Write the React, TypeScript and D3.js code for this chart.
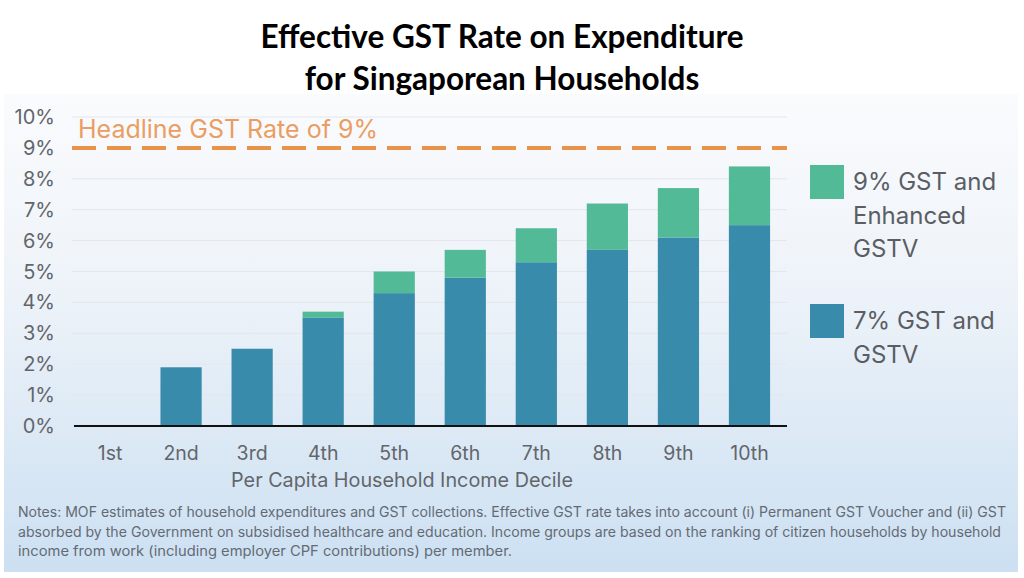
import React, { useEffect, useRef } from 'react';
import * as d3 from 'd3';

// deciles on the x axis
const deciles = ['1st', '2nd', '3rd', '4th', '5th', '6th', '7th', '8th', '9th', '10th'];
// effective rate (%) under 7% GST and GSTV
const baseRates = [0, 1.9, 2.5, 3.5, 4.3, 4.8, 5.3, 5.7, 6.1, 6.5];
// extra effective rate (%) under 9% GST and Enhanced GSTV
const extraRates = [0, 0, 0, 0.2, 0.7, 0.9, 1.1, 1.5, 1.6, 1.9];
const yTicks = [0, 1, 2, 3, 4, 5, 6, 7, 8, 9, 10];
const headlineRate = 9;

const titleLines = ['Effective GST Rate on Expenditure', 'for Singaporean Households'];
const legendItems = [
	{ key: 'extra', lines: ['9% GST and', 'Enhanced', 'GSTV'] },
	{ key: 'base', lines: ['7% GST and', 'GSTV'] },
];
const noteLines = [
	'Notes: MOF estimates of household expenditures and GST collections. Effective GST rate takes into account (i) Permanent GST Voucher and (ii) GST',
	'absorbed by the Government on subsidised healthcare and education. Income groups are based on the ranking of citizen households by household',
	'income from work (including employer CPF contributions) per member.',
];

const W = 1024;
const H = 578;
const colors: Record<string, string> = { base: '#388BAA', extra: '#53BA98' };
const font = 'Inter, "Noto Sans", sans-serif';

const App: React.FC = () => {
	const ref = useRef<SVGSVGElement>(null);

	useEffect(() => {
		if (!ref.current) return;
		const svg = d3.select(ref.current);
		svg.selectAll('*').remove();

		const margin = { left: 74.5, right: 1024 - 785, top: 117, bottom: 578 - 426 };

		// background panel
		const defs = svg.append('defs');
		const grad = defs
			.append('linearGradient')
			.attr('id', 'bg')
			.attr('x1', 0)
			.attr('y1', 0)
			.attr('x2', 0)
			.attr('y2', 1);
		grad.append('stop').attr('offset', '0%').attr('stop-color', '#FAFBFD');
		grad.append('stop').attr('offset', '40%').attr('stop-color', '#EEF3F9');
		grad.append('stop').attr('offset', '100%').attr('stop-color', '#CCE0F2');

		svg.append('rect').attr('width', W).attr('height', H).attr('fill', '#ffffff');
		svg
			.append('rect')
			.attr('x', 4)
			.attr('y', 94)
			.attr('width', 1014)
			.attr('height', 478)
			.attr('fill', 'url(#bg)');

		// title
		svg
			.append('g')
			.selectAll('text')
			.data(titleLines)
			.enter()
			.append('text')
			.attr('x', 502)
			.attr('y', (d, i) => 48 + i * 42)
			.attr('text-anchor', 'middle')
			.attr('font-family', 'Lato, "Open Sans", sans-serif')
			.attr('font-weight', 700)
			.attr('font-size', 31.5)
			.attr('fill', '#000')
			.text((d) => d);

		// --- Scales ---
		const x = d3
			.scaleBand()
			.domain(deciles)
			.range([margin.left, W - margin.right])
			.paddingInner(0.42)
			.paddingOuter(0.21);
		const y = d3
			.scaleLinear()
			.domain([0, 10])
			.range([H - margin.bottom, margin.top]);

		// gridlines
		svg
			.append('g')
			.selectAll('line')
			.data(yTicks.filter((t) => t > 0 && t !== headlineRate))
			.enter()
			.append('line')
			.attr('x1', 72)
			.attr('x2', 787)
			.attr('y1', (d) => y(d))
			.attr('y2', (d) => y(d))
			.attr('stroke', '#E2E7ED')
			.attr('stroke-width', 1);

		// y labels
		svg
			.append('g')
			.selectAll('text')
			.data(yTicks)
			.enter()
			.append('text')
			.attr('x', 55)
			.attr('y', (d) => y(d) + 7)
			.attr('text-anchor', 'end')
			.attr('font-family', font)
			.attr('font-size', 20)
			.attr('fill', '#62666B')
			.text((d) => `${d}%`);

		// --- Stacked bars ---
		const rows = deciles.map((d, i) => ({ decile: d, base: baseRates[i], extra: extraRates[i] }));
		const stack = d3.stack<any>().keys(['base', 'extra'])(rows);
		svg
			.append('g')
			.selectAll('g')
			.data(stack)
			.enter()
			.append('g')
			.attr('fill', (s) => colors[s.key])
			.selectAll('rect')
			.data((s) => s)
			.enter()
			.append('rect')
			.attr('x', (d) => x(d.data.decile) ?? 0)
			.attr('width', x.bandwidth())
			.attr('y', (d) => y(d[1]))
			.attr('height', (d) => Math.max(0, y(d[0]) - y(d[1])));

		// x axis line
		svg
			.append('line')
			.attr('x1', 74)
			.attr('x2', 787)
			.attr('y1', y(0))
			.attr('y2', y(0))
			.attr('stroke', '#111')
			.attr('stroke-width', 2);

		// x labels
		svg
			.append('g')
			.selectAll('text')
			.data(deciles)
			.enter()
			.append('text')
			.attr('x', (d) => (x(d) ?? 0) + x.bandwidth() / 2)
			.attr('y', 460)
			.attr('text-anchor', 'middle')
			.attr('font-family', font)
			.attr('font-size', 19.5)
			.attr('fill', '#62666B')
			.text((d) => d);

		svg
			.append('text')
			.attr('x', 402)
			.attr('y', 487)
			.attr('text-anchor', 'middle')
			.attr('font-family', font)
			.attr('font-size', 19.8)
			.attr('fill', '#62666B')
			.text('Per Capita Household Income Decile');

		// headline rate
		svg
			.append('line')
			.attr('x1', 72)
			.attr('x2', 787)
			.attr('y1', y(headlineRate))
			.attr('y2', y(headlineRate))
			.attr('stroke', '#E8924A')
			.attr('stroke-width', 4)
			.attr('stroke-dasharray', '24 11');
		svg
			.append('text')
			.attr('x', 78)
			.attr('y', 138)
			.attr('font-family', font)
			.attr('font-size', 25)
			.attr('fill', '#EA9E62')
			.text('Headline GST Rate of 9%');

		// legend
		const legend = svg
			.append('g')
			.selectAll('g')
			.data(legendItems)
			.enter()
			.append('g')
			.attr('transform', (d, i) => `translate(810,${i === 0 ? 165 : 304})`);
		legend
			.append('rect')
			.attr('width', 34)
			.attr('height', 34)
			.attr('fill', (d) => colors[d.key]);
		legend
			.selectAll('text')
			.data((d) => d.lines)
			.enter()
			.append('text')
			.attr('x', 43)
			.attr('y', (d, i) => 25 + i * 33.5)
			.attr('font-family', font)
			.attr('font-size', 24)
			.attr('fill', '#5A5E64')
			.text((d) => d);

		// notes
		const noteEnds = [1006, 1001, 512];
		svg
			.append('g')
			.selectAll('text')
			.data(noteLines)
			.enter()
			.append('text')
			.attr('x', 18)
			.attr('y', (d, i) => 517 + i * 19.5)
			.attr('font-family', font)
			.attr('font-size', 14)
			.attr('fill', '#646A73')
			.attr('textLength', (d, i) => noteEnds[i] - 18)
			.attr('lengthAdjust', 'spacingAndGlyphs')
			.text((d) => d);
	}, []);

	return (
		<svg
			ref={ref}
			width={W}
			height={H}
			style={{ position: 'absolute', left: 0, top: 0, display: 'block' }}
		/>
	);
};

export default App;
